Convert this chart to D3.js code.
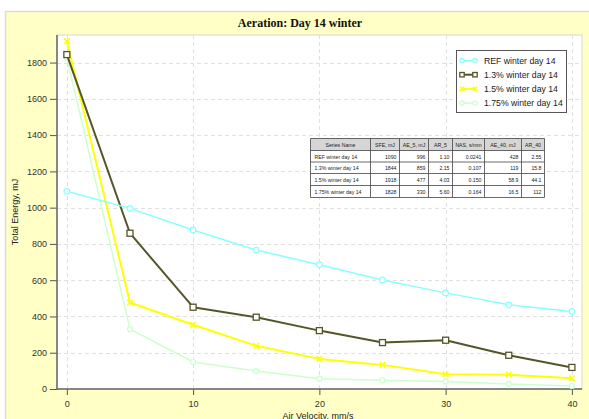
<!DOCTYPE html>
<html>
<head>
<meta charset="utf-8">
<script src="https://cdn.jsdelivr.net/npm/d3@7"></script>
<style>
  html, body { margin: 0; padding: 0; background: #fff; }
  svg { display: block; font-family: "Liberation Sans", Arial, sans-serif; }
</style>
</head>
<body>
<div id="chart"></div>
<script>
/* ── Data ─────────────────────────────────────────────────────────── */
const velocities = [0, 5, 10, 15, 20, 25, 30, 35, 40];
const refWinter  = [1090, 996, 877, 766, 685, 601, 530, 464, 428];
const w13Winter  = [1844, 859, 451, 396, 322, 256, 269, 186, 119];
const w15Winter  = [1918, 477, 354, 238, 166, 133, 81, 79, 58.9];
const w175Winter = [1828, 330, 149, 99, 57, 48, 42, 28, 16.5];

const seriesNames = ['REF winter day 14', '1.3% winter day 14', '1.5% winter day 14', '1.75% winter day 14'];
const xTicks = [0, 10, 20, 30, 40];
const yTicks = [0, 200, 400, 600, 800, 1000, 1200, 1400, 1600, 1800];

const tableHeaders = ['Series Name', 'SFE, mJ', 'AE_5, mJ', 'AR_5', 'NAS, s/mm', 'AE_40, mJ', 'AR_40'];
const tableRows = [
  ['REF winter day 14',   '1090', '996', '1.10', '0.0241', '428',  '2.55'],
  ['1.3% winter day 14',  '1844', '859', '2.15', '0.107',  '119',  '15.8'],
  ['1.5% winter day 14',  '1918', '477', '4.03', '0.150',  '58.9', '44.1'],
  ['1.75% winter day 14', '1828', '330', '5.60', '0.164',  '16.5', '112']
];

/* ── Styles per series ────────────────────────────────────────────── */
const seriesStyle = [
  { values: refWinter,  color: '#88ffff', width: 1.5, marker: 'circle', size: 2.8 },
  { values: w13Winter,  color: '#55552a', width: 2,   marker: 'square', size: 3 },
  { values: w15Winter,  color: '#ffff00', width: 2,   marker: 'cross',  size: 2.8 },
  { values: w175Winter, color: '#ccffcc', width: 1.5, marker: 'circle', size: 2.5 }
];

const W = 589, H = 419;
const margin = { left: 57, top: 35 };
const plotR = 582, plotB = 389;

const svg = d3.select('#chart').append('svg')
  .attr('width', W).attr('height', H);

/* ── Panel background ─────────────────────────────────────────────── */
svg.append('rect')
  .attr('x', 5.5).attr('y', 11.5).attr('width', 600).attr('height', 420)
  .attr('fill', '#ffffc6').attr('stroke', '#dcdcdc').attr('stroke-width', 1.5);

svg.append('text')
  .attr('x', 300).attr('y', 27)
  .attr('text-anchor', 'middle')
  .attr('font-family', '"Liberation Serif", "Times New Roman", serif')
  .attr('font-weight', 'bold').attr('font-size', '12px')
  .attr('fill', '#111')
  .text('Aeration: Day 14 winter');

/* ── Scales ───────────────────────────────────────────────────────── */
const x = d3.scaleLinear().domain([-0.78, 40.8]).range([margin.left, plotR]);
const y = d3.scaleLinear().domain([0, 1952]).range([plotB, margin.top]);

svg.append('rect')
  .attr('x', margin.left).attr('y', margin.top)
  .attr('width', plotR - margin.left).attr('height', plotB - margin.top)
  .attr('fill', '#fff').attr('stroke', '#d8d8d8').attr('stroke-width', 1);

/* ── Grid ─────────────────────────────────────────────────────────── */
const grid = svg.append('g').attr('stroke', '#e0e0e0').attr('stroke-dasharray', '4,3');
grid.selectAll('.gy').data(yTicks.filter(d => d > 0)).join('line')
  .attr('x1', margin.left).attr('x2', plotR)
  .attr('y1', d => Math.round(y(d)) + 0.5).attr('y2', d => Math.round(y(d)) + 0.5);
grid.selectAll('.gx').data(xTicks).join('line')
  .attr('x1', d => Math.round(x(d)) + 0.5).attr('x2', d => Math.round(x(d)) + 0.5)
  .attr('y1', margin.top).attr('y2', plotB);

/* ── Axes ─────────────────────────────────────────────────────────── */
function styleAxis(sel) {
  sel.select('.domain').remove();
  sel.selectAll('line').attr('stroke', '#555');
  sel.selectAll('text').attr('fill', '#333').attr('font-size', '9px')
    .attr('font-family', '"Liberation Sans", Arial, sans-serif');
}

svg.append('g')
  .attr('transform', `translate(${margin.left},0)`)
  .call(d3.axisLeft(y).tickValues(yTicks).tickFormat(d3.format('d')).tickSize(7).tickPadding(3))
  .call(styleAxis);

svg.append('g')
  .attr('transform', `translate(0,${plotB})`)
  .call(d3.axisBottom(x).tickValues(xTicks).tickFormat(d3.format('d')).tickSize(6).tickPadding(6))
  .call(styleAxis);

svg.append('line')
  .attr('x1', margin.left).attr('x2', margin.left)
  .attr('y1', margin.top).attr('y2', plotB + 0.5)
  .attr('stroke', '#666').attr('stroke-width', 1.5);
svg.append('line')
  .attr('x1', margin.left).attr('x2', plotR)
  .attr('y1', plotB).attr('y2', plotB)
  .attr('stroke', '#666').attr('stroke-width', 1.5);

svg.append('text')
  .attr('transform', `translate(18,212) rotate(-90)`)
  .attr('text-anchor', 'middle').attr('font-size', '9px').attr('fill', '#222')
  .text('Total Energy, mJ');

// the reference photo cuts this label at its bottom edge
svg.append('text')
  .attr('x', 318).attr('y', 418.5)
  .attr('text-anchor', 'middle').attr('font-size', '9px').attr('fill', '#222')
  .text('Air Velocity, mm/s');

/* ── Markers ──────────────────────────────────────────────────────── */
function drawMarker(g, cx, cy, s) {
  if (s.marker === 'circle') {
    g.append('circle').attr('cx', cx).attr('cy', cy).attr('r', s.size)
      .attr('fill', '#fff').attr('stroke', s.color).attr('stroke-width', 1.2);
  } else if (s.marker === 'square') {
    g.append('rect').attr('x', cx - s.size).attr('y', cy - s.size)
      .attr('width', s.size * 2).attr('height', s.size * 2)
      .attr('fill', '#fff').attr('stroke', s.color).attr('stroke-width', 1.3);
  } else {
    const r = s.size;
    g.append('path')
      .attr('d', `M${cx - r},${cy - r}L${cx + r},${cy + r}M${cx - r},${cy + r}L${cx + r},${cy - r}`)
      .attr('stroke', s.color).attr('stroke-width', 1.5);
  }
}

/* ── Series ───────────────────────────────────────────────────────── */
const lineGen = d3.line().x(d => x(d[0])).y(d => y(d[1]));

seriesStyle.slice().reverse().forEach(s => {
  const pts = velocities.map((v, i) => [v, s.values[i]]);
  const g = svg.append('g');
  g.append('path').datum(pts)
    .attr('d', lineGen)
    .attr('fill', 'none')
    .attr('stroke', s.color)
    .attr('stroke-width', s.width)
    .attr('stroke-linejoin', 'round');
  pts.forEach(p => drawMarker(g, x(p[0]), y(p[1]), s));
});

/* ── Legend ───────────────────────────────────────────────────────── */
const legend = svg.append('g');
legend.append('rect')
  .attr('x', 456.5).attr('y', 50.5).attr('width', 110).attr('height', 62)
  .attr('fill', '#fff').attr('stroke', '#555').attr('stroke-width', 1);

seriesNames.forEach((name, i) => {
  const s = seriesStyle[i];
  const ly = 60.5 + i * 14.2;
  const g = legend.append('g');
  g.append('line').attr('x1', 461).attr('x2', 476).attr('y1', ly).attr('y2', ly)
    .attr('stroke', s.color).attr('stroke-width', s.width);
  const ms = Object.assign({}, s, { size: 2.2 });
  drawMarker(g, 462, ly, ms);
  drawMarker(g, 475, ly, ms);
  g.append('text').attr('x', 484).attr('y', ly + 3.2)
    .attr('font-size', '8.7px').attr('fill', '#222').text(name);
});

/* ── Summary table ────────────────────────────────────────────────── */
const colX = [310.5, 370.5, 399.5, 428.5, 452.5, 484.5, 521.5, 544.5];
const rowY = [138.5, 150.5, 162, 173.5, 185.5, 197.5];
const tbl = svg.append('g').attr('font-size', '5.2px').attr('fill', '#222');

tbl.append('rect')
  .attr('x', colX[0]).attr('y', rowY[0])
  .attr('width', colX[7] - colX[0]).attr('height', rowY[5] - rowY[0])
  .attr('fill', '#fff');
tbl.append('rect')
  .attr('x', colX[0]).attr('y', rowY[0])
  .attr('width', colX[7] - colX[0]).attr('height', rowY[1] - rowY[0])
  .attr('fill', '#d6d6d6');

tableHeaders.forEach((h, c) => {
  tbl.append('text')
    .attr('x', (colX[c] + colX[c + 1]) / 2).attr('y', rowY[0] + 8)
    .attr('text-anchor', 'middle').text(h);
});
tableRows.forEach((row, r) => {
  row.forEach((v, c) => {
    tbl.append('text')
      .attr('x', c === 0 ? colX[c] + 4 : colX[c + 1] - 3)
      .attr('y', rowY[r + 1] + 8)
      .attr('text-anchor', c === 0 ? 'start' : 'end')
      .text(v);
  });
});

const tlines = tbl.append('g').attr('stroke', '#444').attr('stroke-width', 0.8);
rowY.forEach(ry => tlines.append('line')
  .attr('x1', colX[0]).attr('x2', colX[7]).attr('y1', ry).attr('y2', ry));
colX.forEach(cx => tlines.append('line')
  .attr('x1', cx).attr('x2', cx).attr('y1', rowY[0]).attr('y2', rowY[5]));
</script>
</body>
</html>
